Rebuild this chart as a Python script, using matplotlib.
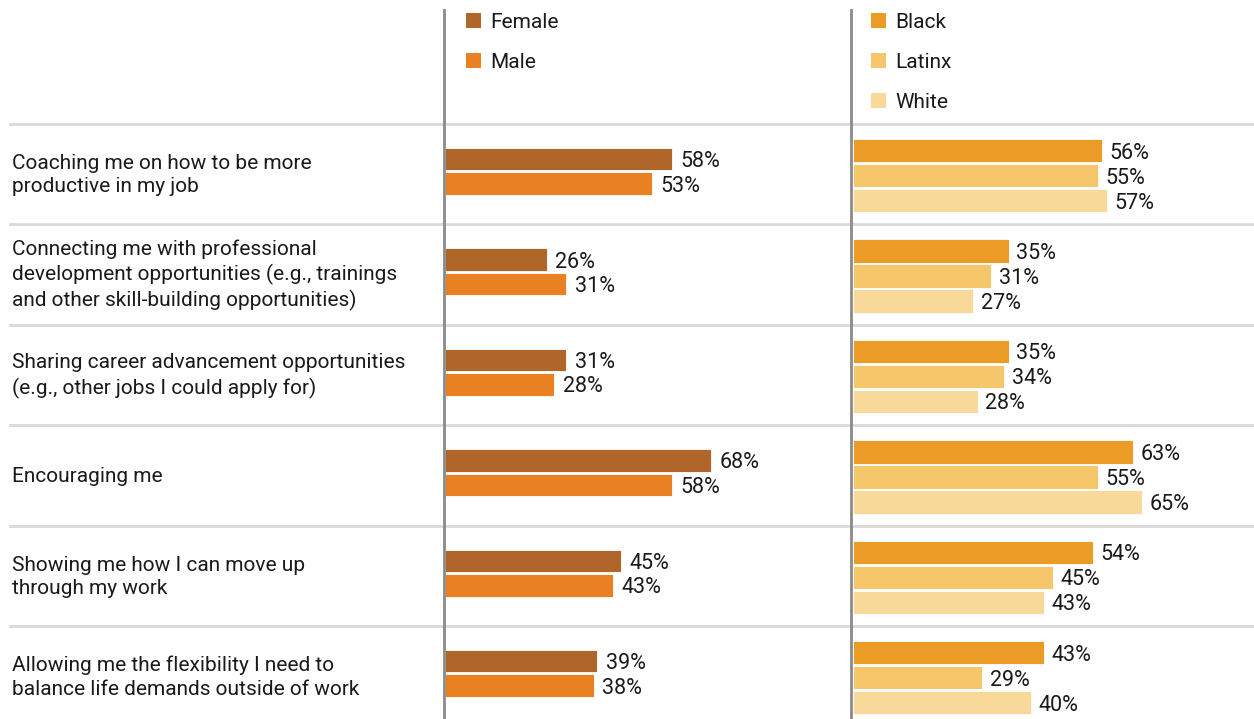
import matplotlib.pyplot as plt
from matplotlib.patches import Rectangle
from matplotlib.lines import Line2D

plt.rcParams['font.family'] = ['Roboto', 'DejaVu Sans']

# 数据
categories = [
    "Coaching me on how to be more\nproductive in my job",
    "Connecting me with professional\ndevelopment opportunities (e.g., trainings\nand other skill-building opportunities)",
    "Sharing career advancement opportunities\n(e.g., other jobs I could apply for)",
    "Encouraging me",
    "Showing me how I can move up\nthrough my work",
    "Allowing me the flexibility I need to\nbalance life demands outside of work",
]
female = [58, 26, 31, 68, 45, 39]
male = [53, 31, 28, 58, 43, 38]
black = [56, 35, 35, 63, 54, 43]
latinx = [55, 31, 34, 55, 45, 29]
white = [57, 27, 28, 65, 43, 40]

gender_names = ["Female", "Male"]
race_names = ["Black", "Latinx", "White"]
gender_colors = ["#B0662A", "#E98021"]
race_colors = ["#EA9C26", "#F6C66B", "#F8D99A"]

W, H = 1254, 719
fig = plt.figure(figsize=(W / 100, H / 100), dpi=100)

row_h = 100.4
top = 124
txt_color = '#1a1a1a'


def px_axes(x0, x1, y0, y1):
    # 像素坐标(自上而下) -> figure坐标
    return fig.add_axes([x0 / W, 1 - y1 / H, (x1 - x0) / W, (y1 - y0) / H])


# 行的y范围
ylim = (-0.5 + (H - top) / row_h, -0.5)

# 左侧面板：性别
axL = px_axes(445, 851, top, H)
axL.set_xlim(0, 406 / 3.91)
axL.set_ylim(*ylim)
offsets_g = [-15 / row_h, 9.5 / row_h]
for vals, off, c in zip([female, male], offsets_g, gender_colors):
    ys = [i + off for i in range(len(vals))]
    axL.barh(ys, vals, height=22.5 / row_h, color=c, edgecolor='white', linewidth=0.6)
    for y, v in zip(ys, vals):
        axL.text(v + 2.2, y, f"{v}%", va='center_baseline', ha='left', fontsize=15.5, color=txt_color)

# 右侧面板：种族
axR = px_axes(853, 1254, top, H)
axR.set_xlim(0, 401 / 4.45)
axR.set_ylim(*ylim)
offsets_r = [-23.5 / row_h, 1.5 / row_h, 26.5 / row_h]
for vals, off, c in zip([black, latinx, white], offsets_r, race_colors):
    ys = [i + off for i in range(len(vals))]
    axR.barh(ys, vals, height=23.5 / row_h, color=c, edgecolor='white', linewidth=0.6)
    for y, v in zip(ys, vals):
        axR.text(v + 1.7, y, f"{v}%", va='center_baseline', ha='left', fontsize=15.5, color=txt_color)

for ax in (axL, axR):
    ax.axis('off')

# 分类标签和分隔线
for i, cat in enumerate(categories):
    yc = top + row_h * (i + 0.5) + 1
    fig.text(12 / W, 1 - yc / H, cat, ha='left', va='center', fontsize=15,
             color=txt_color, linespacing=1.3)
for i in range(len(categories)):
    yl = top + row_h * i
    fig.add_artist(Line2D([10 / W, 1], [1 - yl / H] * 2, color='#d9d9d9', lw=2, zorder=1))

# 竖线
for xv in (444, 851):
    fig.add_artist(Line2D([xv / W] * 2, [1 - 10 / H, 0], color='#8a8a8a', lw=2, zorder=2))

# 图例
def legend_item(x, y, color, label):
    s = 15
    fig.add_artist(Rectangle((x / W, 1 - (y + s / 2) / H), s / W, s / H,
                             facecolor=color, edgecolor='none'))
    fig.text((x + 24) / W, 1 - y / H, label, ha='left', va='center_baseline', fontsize=15, color=txt_color)


for j, (n, c) in enumerate(zip(gender_names, gender_colors)):
    legend_item(466, 20 + 40 * j, c, n)
for j, (n, c) in enumerate(zip(race_names, race_colors)):
    legend_item(871, 20 + 40 * j, c, n)

fig.savefig("out.png", dpi=100)
